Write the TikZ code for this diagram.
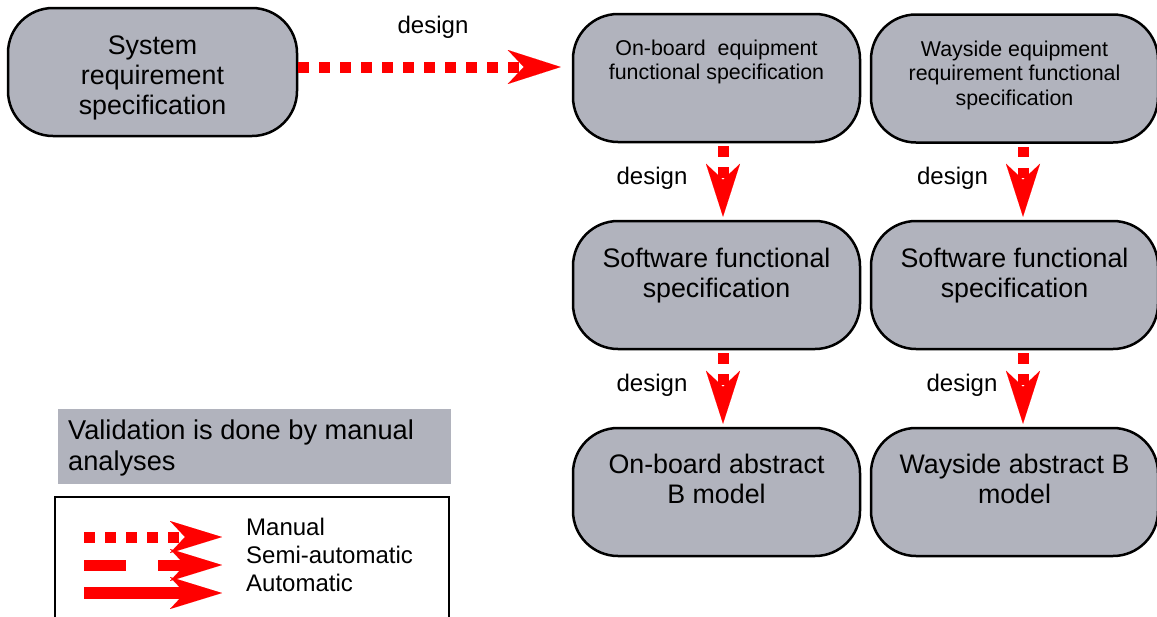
\documentclass[tikz,border=0pt]{standalone}
\usepackage{fontspec}
\setmainfont{Liberation Sans}
\usetikzlibrary{arrows.meta}
\definecolor{boxgray}{RGB}{177,179,189}
\definecolor{flowred}{RGB}{255,0,0}

\tikzset{
  stage/.style={draw=black, line width=2.5pt, fill=boxgray, rounded corners=45pt,
    minimum width=287pt, minimum height=128pt, inner sep=0pt},
  bigtxt/.style={font=\fontsize{26.8}{30}\selectfont, align=center, inner sep=0pt},
  smalltxt/.style={font=\fontsize{21.4}{24.5}\selectfont, align=center, inner sep=0pt},
  lbl/.style={font=\fontsize{24}{28}\selectfont, inner sep=0pt},
  redtip/.style={-{Stealth[length=53pt,width=34pt,inset=16pt,line width=0.01pt]}},
  legtip/.style={-{Stealth[length=52pt,width=32pt,inset=15pt,line width=0.01pt]}},
  manual/.style={draw=flowred, line width=11pt, dash pattern=on 10.5pt off 10.5pt},
  semiauto/.style={draw=flowred, line width=11pt, dash pattern=on 42pt off 32pt},
  automatic/.style={draw=flowred, line width=11.5pt},
}

\begin{document}
\begin{tikzpicture}[x=1pt, y=-1pt]
\useasboundingbox (0,0) rectangle (1157,616);

% --- process boxes
\node[stage, minimum width=289pt] (srs) at (152.5,72) {};
\node[bigtxt] (srs-t) at (152.5,78) {System\\requirement\\specification};

\node[stage] (obeq) at (716.5,78) {};
\node[smalltxt] (obeq-t) at (716.5,62) {On-board\ \ equipment\\functional specification};

\node[stage] (wseq) at (1014.5,78.5) {};
\node[smalltxt] (wseq-t) at (1014.5,75) {Wayside equipment\\requirement functional\\specification};

\node[stage] (obsw) at (716.5,285) {};
\node[bigtxt] (obsw-t) at (716.5,275.5) {Software functional\\specification};

\node[stage] (wssw) at (1014.5,285) {};
\node[bigtxt] (wssw-t) at (1014.5,275.5) {Software functional\\specification};

\node[stage] (obb) at (716.5,492) {};
\node[bigtxt] (obb-t) at (716.5,479) {On-board abstract\\B model};

\node[stage] (wsb) at (1014.5,492) {};
\node[bigtxt] (wsb-t) at (1014.5,479) {Wayside abstract B\\model};

% --- design flows
\draw[manual, redtip, shorten >=11pt] ([yshift=5pt]srs.east) -- ([yshift=11pt]obeq.west);
\draw[manual, redtip, shorten <=3pt, shorten >=3pt] ([xshift=6.5pt]obeq.south) -- ([xshift=6.5pt]obsw.north);
\draw[manual, redtip, shorten <=3pt, shorten >=3pt] ([xshift=6.5pt]obsw.south) -- ([xshift=6.5pt]obb.north);
\draw[manual, redtip, shorten <=3pt, shorten >=3pt] ([xshift=8.5pt]wseq.south) -- ([xshift=8.5pt]wssw.north);
\draw[manual, redtip, shorten <=3pt, shorten >=3pt] ([xshift=8.5pt]wssw.south) -- ([xshift=8.5pt]wsb.north);

\node[lbl, anchor=base] (d1) at (433,33) {design};
\node[lbl, anchor=base] (d2) at (652,184) {design};
\node[lbl, anchor=base] (d3) at (652,391) {design};
\node[lbl, anchor=base] (d4) at (952.5,184) {design};
\node[lbl, anchor=base] (d5) at (962,391) {design};

% --- validation note
\fill[boxgray] (58,409) rectangle (451,484);
\node[bigtxt, align=left, anchor=west, font=\fontsize{27.2}{31}\selectfont] (valid) at (68,448)
  {Validation is done by manual\\analyses};

% --- legend
\draw[line width=2pt] (55,617) -- (55,497) -- (449,497) -- (449,617);
\coordinate (m0) at (84,537);  \coordinate (m1) at (222,537);
\coordinate (s0) at (84,565);  \coordinate (s1) at (222,565);
\coordinate (a0) at (84,593);  \coordinate (a1) at (222,593);
\draw[manual, legtip] (m0) -- (m1);
\draw[semiauto, legtip] (s0) -- (s1);
\draw[automatic, legtip] (a0) -- (a1);
\node[lbl, anchor=base west] (lm) at (246,535) {Manual};
\node[lbl, anchor=base west] (ls) at (246,563) {Semi-automatic};
\node[lbl, anchor=base west] (la) at (246,591) {Automatic};
\end{tikzpicture}
\end{document}
